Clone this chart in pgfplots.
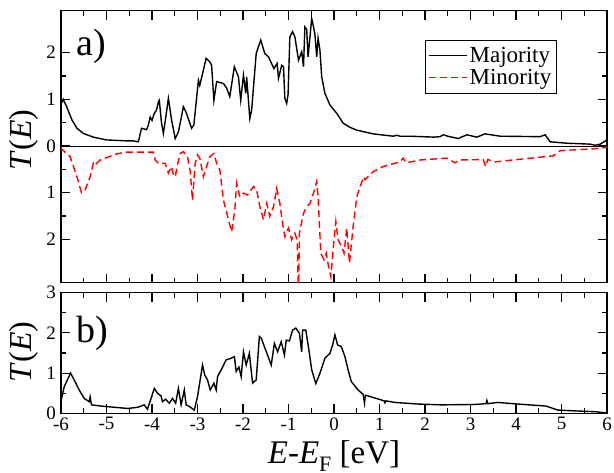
\documentclass[border=0pt]{standalone}
\usepackage{pgfplots}
\pgfplotsset{compat=1.18}
\usepackage{fontspec}
\setmainfont{Liberation Serif}

\pgfplotsset{
  tpanel/.style={
    scale only axis,
    width=546pt,
    xmin=-6, xmax=6,
    xtick={-6,-5,...,6},
    minor x tick num=1,
    minor y tick num=1,
    tick align=inside,
    major tick length=9pt,
    minor tick length=5pt,
    tick style={line width=1.1pt, black},
    axis line style={line width=1.3pt},
    clip=true,
    /pgf/number format/assume math mode=true,
    tick label style={font=\fontsize{19}{22}\selectfont},
    yticklabel style={inner sep=2pt, xshift=-3pt},
    xticklabel style={inner sep=2pt, yshift=-2pt},
    ylabel style={font=\fontsize{32}{36}\selectfont, rotate=0},
    every axis plot/.append style={line width=1.4pt},
  },
}

\begin{document}
\begin{tikzpicture}[x=1pt,y=1pt]

% (a) spin-resolved transmission: majority up, minority mirrored downwards
\begin{axis}[tpanel,
  at={(61pt,189.3pt)}, anchor=south west,
  height=272pt,
  ymin=-2.93, ymax=2.9,
  ytick={-2,-1,0,1,2},
  yticklabels={2,1,0,1,2},
  xticklabels={},
  ylabel={\textit{T}(\textit{E})},
  ylabel style={at={(axis description cs:-0.068,0.525)}, anchor=center},
  legend style={at={(0.908,0.892)}, anchor=north east,
    draw=black, line width=0.8pt, fill=white,
    font=\fontsize{23}{25}\selectfont,
    inner xsep=3pt, inner ysep=5pt,
    row sep=1pt,
    nodes={inner sep=2pt},
    legend cell align=left},
  legend image code/.code={\draw[#1, line width=1pt] (0pt,0pt) -- (38pt,0pt);},
]
\addplot[black, line width=0.9pt, forget plot] coordinates {(-6,0) (6,0)};

\addplot[black] coordinates {
(-6.00,0.90) (-5.95,1.00) (-5.875,0.84) (-5.76,0.56) (-5.65,0.38) (-5.51,0.27)
(-5.29,0.19) (-5.00,0.13) (-4.56,0.11) (-4.41,0.11) (-4.30,0.09) (-4.23,0.38)
(-4.12,0.35) (-4.08,0.45) (-4.04,0.62) (-4.00,0.55) (-3.95,0.70) (-3.90,0.77)
(-3.86,0.95) (-3.84,0.98) (-3.79,0.49) (-3.75,0.27) (-3.70,0.60) (-3.64,1.02)
(-3.57,0.56) (-3.49,0.16) (-3.42,0.30) (-3.31,0.84) (-3.25,0.72) (-3.13,0.38)
(-3.08,0.45) (-2.98,1.41) (-2.95,1.30) (-2.81,1.88) (-2.73,1.80) (-2.69,1.73)
(-2.64,0.98) (-2.58,1.38) (-2.43,1.34) (-2.36,1.24) (-2.29,1.06) (-2.19,1.70)
(-2.10,1.48) (-2.05,0.98) (-1.99,1.52) (-1.94,1.13) (-1.92,1.48) (-1.85,0.59)
(-1.81,0.77) (-1.71,1.98) (-1.66,2.13) (-1.61,2.27) (-1.52,1.98) (-1.44,1.91)
(-1.32,1.66) (-1.25,1.77) (-1.22,1.45) (-1.15,1.73) (-1.11,1.70) (-1.08,1.02)
(-1.04,0.91) (-1.01,1.10) (-0.97,2.34) (-0.91,2.45) (-0.86,2.34) (-0.78,1.84)
(-0.71,2.02) (-0.67,1.70) (-0.64,2.55) (-0.60,2.50) (-0.57,1.91) (-0.49,2.73)
(-0.45,2.55) (-0.42,2.40) (-0.38,1.91) (-0.35,2.31) (-0.31,2.06) (-0.27,1.48)
(-0.20,1.13) (-0.09,0.88) (0.06,0.70) (0.20,0.49) (0.35,0.40) (0.50,0.34)
(0.86,0.26) (1.30,0.21) (1.38,0.23) (1.45,0.21) (1.67,0.21) (2.20,0.19)
(2.33,0.20) (2.40,0.24) (2.50,0.21) (2.73,0.16) (2.92,0.24) (3.14,0.19)
(3.32,0.26) (3.65,0.21) (4.53,0.20) (4.64,0.24) (4.75,0.09) (5.11,0.06)
(5.63,0.04) (5.74,0.015) (5.85,0.04) (6.00,0.13)
};
\addlegendentry{Majority}

\addplot[red, dash pattern=on 7pt off 4pt] coordinates {
(-6.00,-0.03) (-5.98,-0.07) (-5.80,-0.23) (-5.65,-0.66) (-5.55,-1.00) (-5.47,-0.94)
(-5.36,-0.66) (-5.29,-0.37) (-5.27,-0.42) (-5.14,-0.30) (-4.78,-0.17) (-4.56,-0.13)
(-3.97,-0.13) (-3.93,-0.30) (-3.86,-0.37) (-3.71,-0.37) (-3.64,-0.58) (-3.57,-0.44)
(-3.53,-0.62) (-3.49,-0.66) (-3.44,-0.40) (-3.38,-0.16) (-3.31,-0.12) (-3.22,-0.23)
(-3.16,-0.55) (-3.11,-1.16) (-3.05,-0.37) (-3.00,-0.19) (-2.95,-0.26) (-2.87,-0.66)
(-2.80,-0.44) (-2.73,-0.23) (-2.64,-0.16) (-2.58,-0.37) (-2.51,-0.51) (-2.43,-1.16)
(-2.32,-1.58) (-2.25,-1.84) (-2.18,-1.37) (-2.14,-0.80) (-2.07,-1.09) (-1.99,-1.01)
(-1.90,-1.05) (-1.77,-0.87) (-1.70,-0.94) (-1.63,-1.30) (-1.55,-1.58) (-1.48,-1.23)
(-1.41,-1.51) (-1.33,-1.30) (-1.26,-0.91) (-1.19,-1.23) (-1.13,-1.66) (-1.08,-1.94)
(-1.00,-1.76) (-0.93,-2.01) (-0.86,-1.87) (-0.81,-2.01) (-0.78,-3.20) (-0.76,-1.87)
(-0.67,-1.44) (-0.60,-1.30) (-0.53,-1.23) (-0.45,-1.01) (-0.38,-0.76) (-0.35,-1.09)
(-0.29,-2.30) (-0.22,-2.44) (-0.17,-2.30) (-0.12,-2.58) (-0.07,-2.80) (-0.02,-2.23)
(0.04,-1.62) (0.09,-2.01) (0.17,-2.16) (0.22,-2.30) (0.28,-1.76) (0.34,-2.51)
(0.42,-1.73) (0.50,-1.09) (0.65,-0.66) (0.68,-0.72) (0.86,-0.55) (1.08,-0.44)
(1.45,-0.34) (1.52,-0.26) (1.58,-0.36) (1.89,-0.30) (2.48,-0.26) (2.66,-0.36)
(2.75,-0.30) (3.28,-0.29) (3.33,-0.44) (3.38,-0.29) (3.54,-0.34) (4.82,-0.21)
(4.97,-0.10) (5.70,-0.06) (6.00,-0.03)
};
\addlegendentry{Minority}

\node[anchor=base west, font=\fontsize{38}{40}\selectfont, inner sep=0pt]
  at (rel axis cs:0.0275,0.837) {a)};
\end{axis}

% (b) total transmission
\begin{axis}[tpanel,
  at={(61pt,58.7pt)}, anchor=south west,
  height=120.6pt,
  ymin=0, ymax=3,
  ytick={0,1,2,3},
  yticklabels={0,1,2,3},
  xticklabels={-6,-5,-4,-3,-2,-1,0,1,2,3,4,5,6},
  ylabel={\textit{T}(\textit{E})},
  ylabel style={at={(axis description cs:-0.068,0.508)}, anchor=center},
  xlabel={\textit{E}-\textit{E}\raisebox{-8pt}{\fontsize{22}{24}\selectfont F} [eV]},
  xlabel style={at={(axis description cs:0.5,-0.4146)}, anchor=base,
    font=\fontsize{33}{36}\selectfont},
]
\addplot[black] coordinates {
(-6.00,0.30) (-5.93,0.66) (-5.79,1.00) (-5.71,0.83) (-5.60,0.58) (-5.49,0.37)
(-5.38,0.29) (-5.36,0.41) (-5.33,0.21) (-5.12,0.18) (-4.83,0.15) (-4.53,0.12)
(-4.31,0.15) (-4.17,0.21) (-4.10,0.10) (-4.02,0.37) (-3.95,0.62) (-3.88,0.50)
(-3.80,0.43) (-3.77,0.29) (-3.70,0.35) (-3.62,0.25) (-3.55,0.37) (-3.48,0.25)
(-3.42,0.62) (-3.36,0.21) (-3.29,0.58) (-3.25,0.21) (-3.18,0.17) (-3.07,0.08)
(-3.00,0.41) (-2.89,1.20) (-2.84,0.95) (-2.78,0.83) (-2.72,0.58) (-2.64,0.75)
(-2.59,0.58) (-2.56,0.91) (-2.48,1.08) (-2.37,1.33) (-2.26,1.37) (-2.19,1.41)
(-2.15,1.04) (-2.09,1.15) (-2.04,0.91) (-1.99,1.53) (-1.93,1.20) (-1.86,1.49)
(-1.79,0.75) (-1.71,0.83) (-1.64,1.91) (-1.60,1.87) (-1.53,1.66) (-1.46,1.45)
(-1.38,1.20) (-1.31,1.74) (-1.24,1.53) (-1.16,1.78) (-1.09,1.45) (-1.05,1.82)
(-0.98,1.80) (-0.91,2.07) (-0.84,2.12) (-0.76,1.99) (-0.71,1.53) (-0.69,2.07)
(-0.62,2.07) (-0.54,1.49) (-0.49,1.08) (-0.40,0.74) (-0.31,0.99) (-0.20,1.37)
(-0.09,1.49) (-0.03,1.70) (0.02,1.95) (0.08,1.70) (0.16,1.66) (0.24,1.41)
(0.31,1.08) (0.38,0.79) (0.53,0.58) (0.64,0.47) (0.67,0.25) (0.69,0.45)
(0.99,0.35) (1.10,0.31) (1.12,0.26) (1.14,0.31) (1.34,0.27) (1.85,0.23)
(2.36,0.21) (3.10,0.22) (3.34,0.24) (3.36,0.32) (3.38,0.24) (3.60,0.27)
(4.04,0.23) (4.66,0.18) (4.92,0.08) (5.29,0.06) (5.73,0.04) (5.99,0.01)
};
\node[anchor=base west, font=\fontsize{38}{40}\selectfont, inner sep=0pt]
  at (rel axis cs:0.0275,0.583) {b)};
\end{axis}

\pgfresetboundingbox
\path[use as bounding box] (0,0) rectangle (614,472);
\end{tikzpicture}
\end{document}
